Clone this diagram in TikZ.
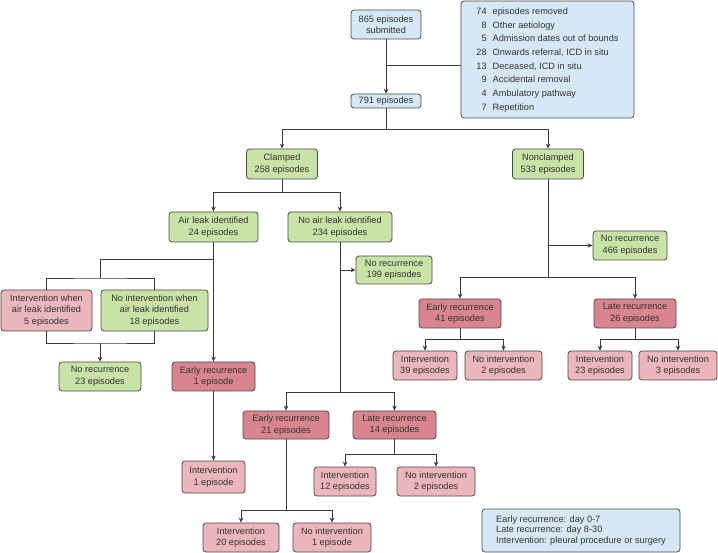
\documentclass[tikz,border=0pt]{standalone}
\usepackage{fontspec}
\setmainfont{Liberation Sans}
\usetikzlibrary{arrows.meta}
\definecolor{bluefill}{HTML}{D6E8F6}
\definecolor{greenfill}{HTML}{C9E3A6}
\definecolor{redfill}{HTML}{D8858F}
\definecolor{pinkfill}{HTML}{EBB6BC}
\definecolor{bordc}{HTML}{4A4A4A}
\definecolor{linec}{HTML}{3A3A3A}
\definecolor{txt}{HTML}{333333}
\tikzset{
  box/.style={draw=bordc, rounded corners=3pt, line width=0.8pt, align=center,
    inner sep=0pt, text=txt, font=\fontsize{9.2}{11.5}\selectfont},
  bbox/.style={box, fill=bluefill},
  gbox/.style={box, fill=greenfill},
  rbox/.style={box, fill=redfill},
  pbox/.style={box, fill=pinkfill},
  sz/.style 2 args={minimum width=#1pt, minimum height=#2pt},
  conn/.style={draw=linec, line width=0.8pt},
  arr/.style={conn, -{Stealth[length=5pt,width=4.5pt]}},
}
\begin{document}
\begin{tikzpicture}[x=1pt,y=-1pt]
\useasboundingbox (0,0) rectangle (718,553);

% top of the flow
\node[bbox, sz={70}{29}] (sub) at (386,24.5) {865 episodes\\submitted};
\node[bbox, sz={173}{117}] (rem) at (547.5,59.5) {%
  \renewcommand\arraystretch{1.19}%
  \begin{tabular}{@{}r@{\hspace{6pt}}l@{}}
  74 & episodes removed\\
  8 & Other aetiology\\
  5 & Admission dates out of bounds\\
  28 & Onwards referral, ICD in situ\\
  13 & Deceased, ICD in situ\\
  9 & Accidental removal\\
  4 & Ambulatory pathway\\
  7 & Repetition
  \end{tabular}};
\node[bbox, sz={70}{14}] (e791) at (386,101) {791 episodes};

% clamped / nonclamped
\node[gbox, sz={71}{30}] (clamped) at (282,164) {Clamped\\258 episodes};
\node[gbox, sz={71}{30}] (nonclamped) at (548,164) {Nonclamped\\533 episodes};

% clamped branch
\node[gbox, sz={89}{30}] (airleak) at (213.5,227) {Air leak identified\\24 episodes};
\node[gbox, sz={104}{30}] (noairleak) at (340,227) {No air leak identified\\234 episodes};

\node[pbox, sz={91}{41}] (intwhen) at (46.5,310.5) {Intervention when\\air leak identified\\5 episodes};
\node[gbox, sz={107}{41}] (nointwhen) at (154.5,310.5) {No intervention when\\air leak identified\\18 episodes};
\node[gbox, sz={82}{29}] (norec23) at (100,376.5) {No recurrence\\23 episodes};
\node[rbox, sz={83}{29}] (early1) at (213.5,376.5) {Early recurrence\\1 episode};
\node[pbox, sz={63}{32}] (int1) at (213.5,477) {Intervention\\1 episode};

\node[gbox, sz={76}{28}] (norec199) at (394,270) {No recurrence\\199 episodes};
\node[rbox, sz={86}{28}] (early21) at (286,425) {Early recurrence\\21 episodes};
\node[rbox, sz={83}{28}] (late14) at (394.5,425) {Late recurrence\\14 episodes};
\node[pbox, sz={76}{29}] (int20) at (241,537.5) {Intervention\\20 episodes};
\node[pbox, sz={78}{29}] (noint1) at (332,537.5) {No intervention\\1 episode};
\node[pbox, sz={62}{29}] (int12) at (345,481.5) {Intervention\\12 episodes};
\node[pbox, sz={78}{29}] (noint2b) at (436,481.5) {No intervention\\2 episodes};

% nonclamped branch
\node[gbox, sz={74}{29}] (norec466) at (630,245.5) {No recurrence\\466 episodes};
\node[rbox, sz={82}{29}] (early41) at (460,313.5) {Early recurrence\\41 episodes};
\node[rbox, sz={82}{29}] (late26) at (635,313.5) {Late recurrence\\26 episodes};
\node[pbox, sz={64}{29}] (int39) at (425,365.5) {Intervention\\39 episodes};
\node[pbox, sz={77}{29}] (noint2) at (503.5,365.5) {No intervention\\2 episodes};
\node[pbox, sz={64}{29}] (int23) at (600,365.5) {Intervention\\23 episodes};
\node[pbox, sz={78}{29}] (noint3) at (678,365.5) {No intervention\\3 episodes};

% legend
\node[bbox, sz={198}{43}, align=left, font=\fontsize{9.2}{10.8}\selectfont] (legend) at (581,530.5)
  {Early recurrence: day 0-7\\Late recurrence: day 8-30\\Intervention: pleural procedure or surgery};

% junction points
\coordinate (j0) at (386,65);
\coordinate (j1) at (386,129);
\coordinate (j2) at (282,192);
\coordinate (j3) at (213.5,259);
\coordinate (j4) at (100,278);
\coordinate (j5) at (100,343);
\coordinate (j6) at (340,392);
\coordinate (j7) at (286,510);
\coordinate (j8) at (394.5,454);
\coordinate (j9) at (548,277);
\coordinate (j10) at (460,339);
\coordinate (j11) at (635,339);

% connectors
\draw[arr] (sub) -- (e791);
\draw[conn] (rem.west |- j0) -- (j0);
\draw[conn] (e791) -- (j1);
\draw[arr] (j1) -| (clamped);
\draw[arr] (j1) -| (nonclamped);

\draw[conn] (clamped) -- (j2);
\draw[arr] (j2) -| (airleak);
\draw[arr] (j2) -| (noairleak);

\draw[conn] (j3) -| (j4);
\draw[conn] (intwhen.north) |- (j4) -| (nointwhen.north);
\draw[conn] (intwhen.south) |- (j5) -| (nointwhen.south);
\draw[arr] (j5) -- (norec23);
\draw[arr] (airleak) -- (early1);
\draw[arr] (early1) -- (int1);

\draw[conn] (noairleak) -- (j6);
\draw[arr] (noairleak.south |- norec199.west) -- (norec199.west);
\draw[arr] (j6) -| (early21);
\draw[arr] (j6) -| (late14);
\draw[conn] (early21) -- (j7);
\draw[arr] (j7) -| (int20);
\draw[arr] (j7) -| (noint1);
\draw[conn] (late14) -- (j8);
\draw[arr] (j8) -| (int12);
\draw[arr] (j8) -| (noint2b);

\draw[conn] (nonclamped) -- (j9);
\draw[arr] (nonclamped.south |- norec466.west) -- (norec466.west);
\draw[arr] (j9) -| (early41);
\draw[arr] (j9) -| (late26);
\draw[conn] (early41) -- (j10);
\draw[arr] (j10) -| (int39);
\draw[arr] (j10) -| (noint2);
\draw[conn] (late26) -- (j11);
\draw[arr] (j11) -| (int23);
\draw[arr] (j11) -| (noint3);
\end{tikzpicture}
\end{document}
